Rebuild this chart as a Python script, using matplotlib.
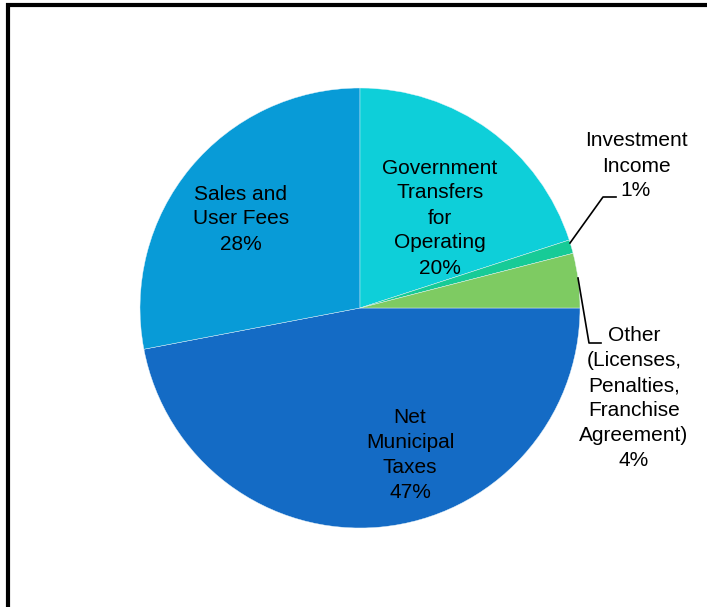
import matplotlib
matplotlib.use("Agg")
import matplotlib.pyplot as plt

# ---- data ----
categories = ["Net\nMunicipal\nTaxes", "Sales and\nUser Fees", "Government\nTransfers\nfor\nOperating",
              "Investment\nIncome", "Other\n(Licenses,\nPenalties,\nFranchise\nAgreement)"]
shares = [47, 28, 20, 1, 4]
colors = ["#146BC5", "#089BD7", "#0ECFD9", "#17CB97", "#7ECB62"]

plt.rcParams["font.family"] = ["Liberation Sans", "DejaVu Sans"]

W, H = 707, 607
fig = plt.figure(figsize=(W / 100, H / 100), dpi=100)
ax = fig.add_axes([0, 0, 1, 1])

# pie drawn in pixel-like coordinates (y up)
cx, cy, r = 360, H - 308, 220
ax.pie(shares, colors=colors, startangle=0, counterclock=False,
       center=(cx, cy), radius=r, frame=False,
       wedgeprops=dict(edgecolor="#e8f4fa", linewidth=0.3))

ax.set_xlim(0, W)
ax.set_ylim(0, H)
ax.set_aspect("equal")
ax.axis("off")

fs = 15
ls = 1.4


def lab(i):
    return f"{categories[i]}\n{shares[i]}%"


ax.text(410, H - 455, lab(0), ha="center", va="center", fontsize=fs, linespacing=ls)
ax.text(241, H - 219, lab(1), ha="center", va="center", fontsize=fs, linespacing=ls)
ax.text(440, H - 218, lab(2), ha="center", va="center", fontsize=fs, linespacing=ls)
ax.text(636, H - 166, lab(3), ha="center", va="center", fontsize=fs, linespacing=ls)
ax.text(634, H - 398, lab(4), ha="center", va="center", fontsize=fs, linespacing=ls)

# leader lines
ax.plot([570, 603, 616], [H - 243, H - 197, H - 197], color="black", lw=1.2)
ax.plot([578, 589, 601], [H - 278, H - 343, H - 343], color="black", lw=1.2)

# frame (top and left edges)
ax.plot([6, W], [H - 5, H - 5], color="black", lw=3, solid_capstyle="butt")
ax.plot([8, 8], [H - 3, 0], color="black", lw=3, solid_capstyle="butt")

fig.savefig("out.png", dpi=100)
